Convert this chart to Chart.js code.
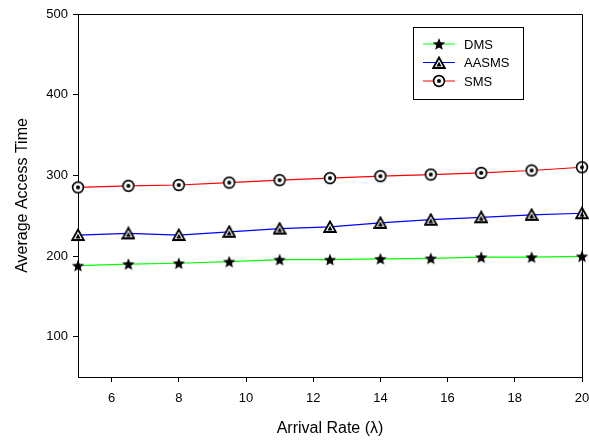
<!DOCTYPE html>
<html lang="en">
<head>
    <meta charset="UTF-8">
    <title>Average Access Time vs Arrival Rate</title>
    <script src="https://cdn.jsdelivr.net/npm/chart.js"></script>
    <style>
        html, body { margin: 0; padding: 0; background: #fff; }
        #chartBox { width: 589px; height: 440px; }
    </style>
</head>
<body>
    <div id="chartBox"><canvas id="myChart"></canvas></div>

    <script>
        // data
        const arrivalRate = [5, 6.5, 8, 9.5, 11, 12.5, 14, 15.5, 17, 18.5, 20];
        const dmsValues   = [188, 190, 191, 193, 195.5, 195.5, 196.5, 197, 198.5, 198.5, 199.5];
        const aasmsValues = [226, 228, 226, 230, 234, 236, 241, 245, 248, 251, 253];
        const smsValues   = [285, 287, 288, 291, 294, 296.5, 299, 301, 303, 306, 310];
        const seriesNames = ['DMS', 'AASMS', 'SMS'];
        const xTicks = [6, 8, 10, 12, 14, 16, 18, 20];
        const yTicks = [100, 200, 300, 400, 500];

        const FONT = '"Liberation Sans", Arial, sans-serif';

        // marker images
        function makeMarker(kind) {
            const c = document.createElement('canvas');
            c.width = 14; c.height = 14;
            const g = c.getContext('2d');
            const cx = 7, cy = 7;
            g.fillStyle = '#000';
            g.strokeStyle = '#000';
            if (kind === 'star') {
                g.beginPath();
                for (let i = 0; i < 10; i++) {
                    const r = i % 2 === 0 ? 6.5 : 2.8;
                    const a = -Math.PI / 2 + i * Math.PI / 5;
                    const px = cx + r * Math.cos(a), py = cy + 0.6 + r * Math.sin(a);
                    if (i === 0) g.moveTo(px, py); else g.lineTo(px, py);
                }
                g.closePath();
                g.fill();
            } else if (kind === 'triangle') {
                g.lineWidth = 1.8;
                g.lineJoin = 'miter';
                g.beginPath();
                g.moveTo(cx, 1.5); g.lineTo(12.8, 12); g.lineTo(1.2, 12); g.closePath();
                g.fillStyle = '#fff';
                g.fill();
                g.stroke();
                g.fillStyle = '#000';
                g.beginPath();
                g.moveTo(cx, 5.5); g.lineTo(9.5, 10.5); g.lineTo(4.5, 10.5); g.closePath();
                g.fill();
            } else {
                g.lineWidth = 1.6;
                g.beginPath();
                g.arc(cx, cy, 5.4, 0, Math.PI * 2);
                g.fillStyle = '#fff';
                g.fill();
                g.stroke();
                g.fillStyle = '#000';
                g.beginPath();
                g.arc(cx, cy, 2, 0, Math.PI * 2);
                g.fill();
            }
            return c;
        }
        const markers = [makeMarker('star'), makeMarker('triangle'), makeMarker('circle')];

        function toPoints(values) {
            return values.map((v, i) => ({ x: arrivalRate[i], y: v }));
        }

        // closes the frame and draws the boxed legend
        const frameLegendPlugin = {
            id: 'frameLegendPlugin',
            afterDraw(chart) {
                const { ctx, chartArea } = chart;
                ctx.save();
                ctx.strokeStyle = '#000';
                ctx.lineWidth = 1;
                ctx.beginPath();
                ctx.moveTo(chartArea.left, chartArea.top + 0.5);
                ctx.lineTo(chartArea.right + 0.5, chartArea.top + 0.5);
                ctx.lineTo(chartArea.right + 0.5, chartArea.bottom);
                ctx.stroke();

                const bx = chartArea.left + 335, by = chartArea.top + 13;
                ctx.strokeRect(bx + 0.5, by + 0.5, 110, 72);
                ctx.font = '13px ' + FONT;
                ctx.textBaseline = 'middle';
                chart.data.datasets.forEach((ds, i) => {
                    const y = by + 17 + i * 18.5;
                    ctx.strokeStyle = ds.borderColor;
                    ctx.beginPath();
                    ctx.moveTo(bx + 10, y);
                    ctx.lineTo(bx + 42, y);
                    ctx.stroke();
                    ctx.drawImage(markers[i], Math.round(bx + 26 - 7), Math.round(y - 7));
                    ctx.fillStyle = '#000';
                    ctx.fillText(ds.label, bx + 51, y + 1);
                });
                ctx.restore();
            }
        };

        const config = {
            type: 'line',
            data: {
                datasets: [
                    { label: seriesNames[0], data: toPoints(dmsValues), borderColor: '#00ff00' },
                    { label: seriesNames[1], data: toPoints(aasmsValues), borderColor: '#0000ff' },
                    { label: seriesNames[2], data: toPoints(smsValues), borderColor: '#ff0000' }
                ].map((ds, i) => Object.assign(ds, {
                    borderWidth: 1.2,
                    tension: 0,
                    pointStyle: markers[i],
                    clip: false
                }))
            },
            options: {
                responsive: true,
                maintainAspectRatio: false,
                animation: false,
                layout: { padding: { top: 14, right: 7, left: 0, bottom: 0 } },
                plugins: {
                    legend: { display: false },
                    tooltip: { enabled: false }
                },
                scales: {
                    x: {
                        type: 'linear',
                        min: 5,
                        max: 20,
                        afterBuildTicks(scale) { scale.ticks = xTicks.map(v => ({ value: v })); },
                        afterFit(scale) {
                            scale.height = 63;
                            scale.paddingLeft = 0;
                            scale.paddingRight = 0;
                        },
                        grid: { display: true, drawOnChartArea: false, tickLength: 5, color: '#000' },
                        border: { display: true, color: '#000', width: 1 },
                        ticks: { color: '#000', padding: 9, maxRotation: 0, font: { family: FONT, size: 13 } },
                        title: {
                            display: true,
                            text: 'Arrival Rate (λ)',
                            color: '#000',
                            padding: { top: 0, bottom: 2 },
                            font: { family: FONT, size: 16 }
                        }
                    },
                    y: {
                        min: 50,
                        max: 500,
                        afterBuildTicks(scale) { scale.ticks = yTicks.map(v => ({ value: v })); },
                        afterFit(scale) {
                            scale.width = 78;
                            scale.paddingTop = 0;
                            scale.paddingBottom = 0;
                        },
                        grid: { display: true, drawOnChartArea: false, tickLength: 5, color: '#000' },
                        border: { display: true, color: '#000', width: 1 },
                        ticks: { color: '#000', padding: 5, font: { family: FONT, size: 13 } },
                        title: {
                            display: true,
                            text: 'Average Access Time',
                            color: '#000',
                            padding: { top: 13, bottom: 0 },
                            font: { family: FONT, size: 16 }
                        }
                    }
                }
            },
            plugins: [frameLegendPlugin]
        };

        const ctx = document.getElementById('myChart').getContext('2d');
        new Chart(ctx, config);
    </script>
</body>
</html>
